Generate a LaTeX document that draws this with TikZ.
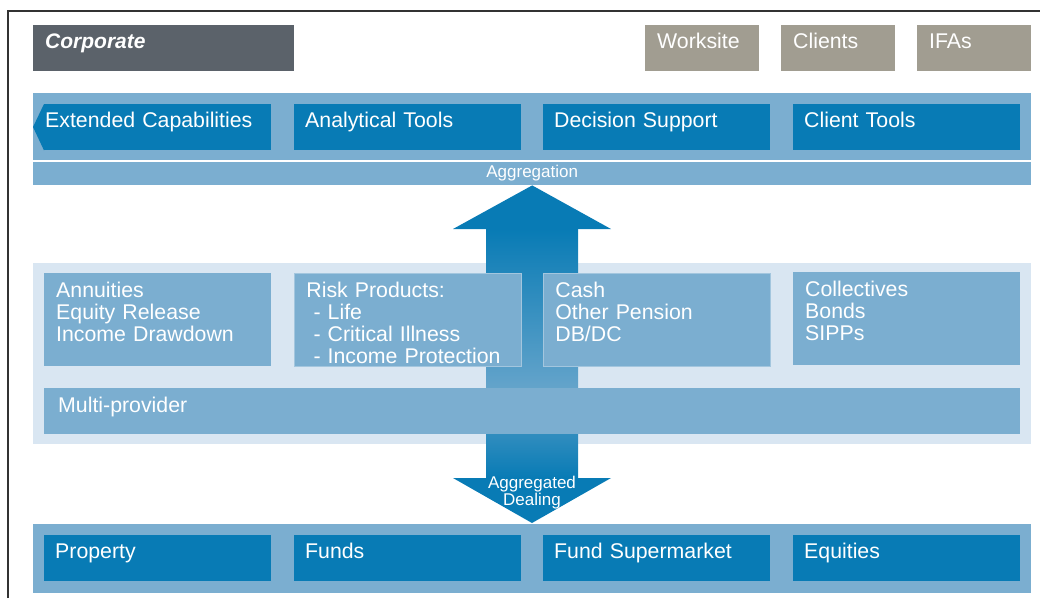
\documentclass[tikz,border=0pt]{standalone}
\usepackage{fontspec}
\setmainfont{Liberation Sans}
\usepackage{tikz}
\usetikzlibrary{positioning}
\definecolor{dblue}{RGB}{8,123,181}
\definecolor{lblue}{RGB}{123,174,208}
\definecolor{pblue}{RGB}{217,230,242}
\definecolor{slate}{RGB}{91,98,106}
\definecolor{stone}{RGB}{161,157,145}

\begin{document}
\begin{tikzpicture}[x=1pt,y=-1pt,
  tile/.style={anchor=north west, fill=dblue, text=white, align=left, inner xsep=11pt, inner ysep=0pt, text width=205pt, text height=23pt, text depth=23pt, font=\fontsize{21.3}{22}\selectfont},
  midtile/.style={tile, fill=lblue, inner xsep=12pt, text width=203pt, text height=24pt, text depth=69pt},
  headtile/.style={tile, inner xsep=12pt, text width=90pt, fill=stone},
  thin/.style={font=\fontsize{17}{17}\selectfont, text=white, inner sep=0pt}]
\useasboundingbox (0,0) rectangle (1040,598);
\draw [line width=1.2pt, black!80] (8,598) -- (8,11) -- (1040,11);

\node [headtile, fill=slate, text width=237pt, font=\fontsize{21}{22}\selectfont\bfseries\itshape] (corp) at (33,25) {Corporate};
\foreach \x/\name/\txt in {645/work/Worksite, 781/clients/Clients, 917/ifas/IFAs}
  \node [headtile] (\name) at (\x,25) {\txt};

\fill [lblue] (33,93) rectangle (1031,160);
\node [thin, fill=lblue, anchor=north west, minimum width=998pt, text height=15pt, text depth=8pt] (agg) at (33,162) {Aggregation};
\node [tile, inner xsep=1pt, text width=225pt] (ext) at (44,104) {Extended Capabilities};
\fill [dblue] (ext.north west) -- (33,127) -- (ext.south west) -- cycle;
\foreach \x/\name/\txt in {294/anl/Analytical Tools, 543/dec/Decision Support, 793/cli/Client Tools}
  \node [tile] (\name) at (\x,104) {\txt};

\fill [pblue] (33,263) rectangle (1031,444);
\fill [dblue] (agg.south) -- (611,229) -- (453,229) -- cycle;
\shade [top color=dblue, bottom color=lblue!80!dblue] (486,229) rectangle (578,388);

\node [midtile] (annu) at (44,273) {Annuities\\Equity Release\\Income Drawdown};
\node [midtile, draw=white!30!lblue, line width=0.8pt] (risk) at (294,273) {Risk Products:\\\ - Life\\\ - Critical Illness\\\ - Income Protection};
\node [midtile, draw=white!30!lblue, line width=0.8pt] (cash) at (543,273) {Cash\\Other Pension\\DB/DC};
\node [midtile] (coll) at (793,272) {Collectives\\Bonds\\SIPPs};
\node [tile, fill=lblue, inner xsep=14pt, text width=948pt, text height=24pt, text depth=22pt] (multi) at (44,388) {Multi-provider};

\shade [top color=dblue!65!lblue, bottom color=dblue] (486,434) rectangle (578,478);
\fill [dblue] (453,478) -- (611,478) -- (532,523) -- cycle;
\node [thin, align=center] (deal) at (532,493) {Aggregated\\Dealing};

\fill [lblue] (33,524) rectangle (1031,593);
\foreach \x/\name/\txt in {44/prop/Property, 294/funds/Funds, 543/super/Fund Supermarket, 793/equ/Equities}
  \node [tile] (\name) at (\x,535) {\txt};

\end{tikzpicture}
\end{document}
